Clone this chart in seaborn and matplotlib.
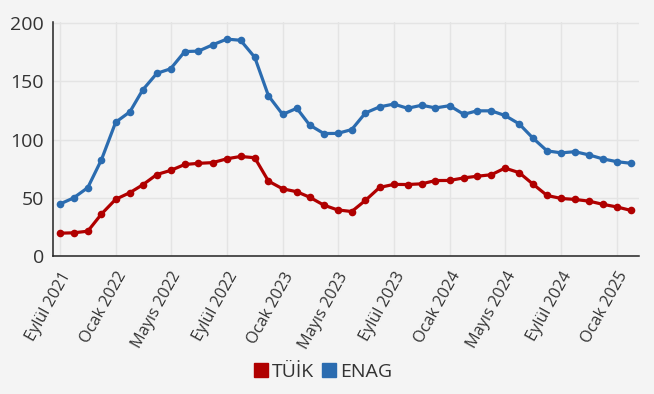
import pandas as pd
import numpy as np
import matplotlib
matplotlib.use("Agg")
import matplotlib.pyplot as plt
import matplotlib.dates as mdates
from matplotlib.patches import Patch
import seaborn as sns

# monthly annual inflation, Eylül 2021 - Şubat 2025
tuik = [19.6, 19.9, 21.3, 36.1, 48.7, 54.4, 61.1, 70.0, 73.5, 78.6, 79.6, 80.2,
        83.5, 85.5, 84.4, 64.3, 57.7, 55.2, 50.5, 43.7, 39.6, 38.2, 47.8, 58.9,
        61.5, 61.4, 62.0, 64.8, 64.9, 67.1, 68.5, 69.8, 75.5, 71.6, 61.8, 52.0,
        49.4, 48.6, 47.1, 44.4, 42.1, 39.1]
enag = [44.6, 49.9, 58.7, 82.8, 114.9, 123.8, 142.6, 156.9, 160.8, 175.6, 176.0, 181.4,
        186.3, 185.3, 170.7, 137.6, 121.6, 126.9, 112.5, 105.2, 105.3, 108.6, 122.9, 128.1,
        130.5, 126.9, 129.5, 127.2, 129.1, 121.7, 124.7, 124.7, 120.7, 113.5, 101.3, 90.3,
        88.6, 89.6, 86.8, 83.4, 81.0, 79.6]
months = pd.date_range("2021-09-01", periods=len(tuik), freq="MS")

tick_dates = pd.date_range("2021-09-01", "2025-01-01", freq="4MS")
tick_labels = ["Eylül 2021", "Ocak 2022", "Mayıs 2022", "Eylül 2022", "Ocak 2023",
               "Mayıs 2023", "Eylül 2023", "Ocak 2024", "Mayıs 2024", "Eylül 2024",
               "Ocak 2025"]

series_names = ["TÜİK", "ENAG"]
colors = {"TÜİK": "#b00000", "ENAG": "#2b6cb0"}

df = pd.DataFrame({"ay": months, "TÜİK": tuik, "ENAG": enag})
long = df.melt(id_vars="ay", var_name="seri", value_name="deger")

sns.set_style("white")
plt.rcParams["font.family"] = ["Open Sans", "DejaVu Sans"]

bg = "#f4f4f4"
fig = plt.figure(figsize=(6.54, 3.94), dpi=100, facecolor=bg)
ax = fig.add_axes([53 / 654, 1 - 256 / 394, (639 - 53) / 654, (256 - 22) / 394])
ax.set_facecolor(bg)

sns.lineplot(data=long, x="ay", y="deger", hue="seri", hue_order=series_names,
             palette=colors, marker="o", markersize=5.5, markeredgewidth=0,
             linewidth=2.3, legend=False, ax=ax)

ax.set_ylim(0, 201)
ax.set_xlim(pd.Timestamp("2021-08-17"), pd.Timestamp("2025-02-18"))
ax.set_yticks([0, 50, 100, 150, 200])
ax.set_xticks(tick_dates)
ax.set_xticklabels(tick_labels, rotation=61, ha="right", rotation_mode="anchor",
                   fontsize=11.7, color="#333333")
ax.tick_params(axis="y", labelsize=14, labelcolor="#333333", color="#aaaaaa",
               length=4.5, width=1.2, pad=2)
ax.tick_params(axis="x", color="#666666", length=4.5, width=1.2, pad=5)
ax.set_xlabel("")
ax.set_ylabel("")

ax.grid(True, color="#e4e4e4", linewidth=1)
ax.set_axisbelow(True)
for s in ["top", "right"]:
    ax.spines[s].set_visible(False)
for s in ["left", "bottom"]:
    ax.spines[s].set_color("#222222")
    ax.spines[s].set_linewidth(1.1)

handles = [Patch(color=colors[n], label=n) for n in series_names]
fig.legend(handles=handles, loc="center", bbox_to_anchor=(323 / 654, 1 - 372 / 394),
           ncol=2, frameon=False, fontsize=14, handlelength=0.75, handleheight=0.75,
           handletextpad=0.2, columnspacing=0.4, labelcolor="#333333")

fig.savefig("out.png", dpi=100, facecolor=bg)
